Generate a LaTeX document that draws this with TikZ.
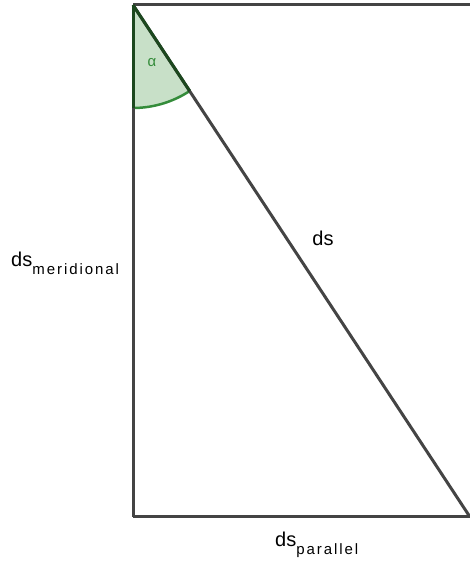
\documentclass[tikz,border=0pt]{standalone}
\usepackage{fontspec}
\setmainfont{Liberation Sans}
\usetikzlibrary{positioning}
\definecolor{edgegray}{RGB}{68,68,68}
\definecolor{anglefill}{RGB}{200,224,200}
\definecolor{anglearc}{RGB}{52,140,58}
\definecolor{angleedge}{RGB}{28,72,30}
\newcommand{\subtxt}[1]{\raisebox{-8pt}{\fontsize{15}{17}\selectfont\addfontfeature{LetterSpace=13}#1}}
\begin{document}
\begin{tikzpicture}[x=1pt, y=1pt,
    side/.style={draw=edgegray, line width=3pt},
    lbl/.style={font=\fontsize{20}{23}\selectfont, inner sep=0pt}]
			\useasboundingbox (0,0) rectangle (469,564);

			% Corners of the triangle
			\coordinate (TL) at (133, 559);
			\coordinate (BL) at (133, 47);
			\coordinate (BR) at (470, 47);
			\coordinate (TR) at (470, 559);

			% Draw the angle sector
			\fill[anglefill] (TL) -- ++(270:103) arc[start angle=270, end angle=303.4, radius=103] -- cycle;
			\draw[anglearc, line width=2.5pt] (TL) ++(270:103) arc[start angle=270, end angle=303.4, radius=103];

			% Draw the sides
			\draw[side] (TL) -- (TR);
			\draw[side] (TL) -- (BL);
			\draw[side] (BL) -- (BR);
			\draw[side] (TL) -- (BR);

			% Darker edges of the sector
			\draw[angleedge, line width=3pt] (TL) -- ++(270:103);
			\draw[angleedge, line width=3pt] (TL) -- ++(303.4:103);

			% Labels
			\node[text=anglearc, font=\fontsize{15}{17}\selectfont] (alpha) at (152, 501) {α};
			\node[lbl] (diag) at (323, 326) {ds};
			\node[lbl, anchor=base west] (merid) at (11, 297) {ds\subtxt{meridional}};
			\node[lbl, anchor=base west] (paral) at (275, 17) {ds\subtxt{parallel}};

		\end{tikzpicture}
\end{document}
